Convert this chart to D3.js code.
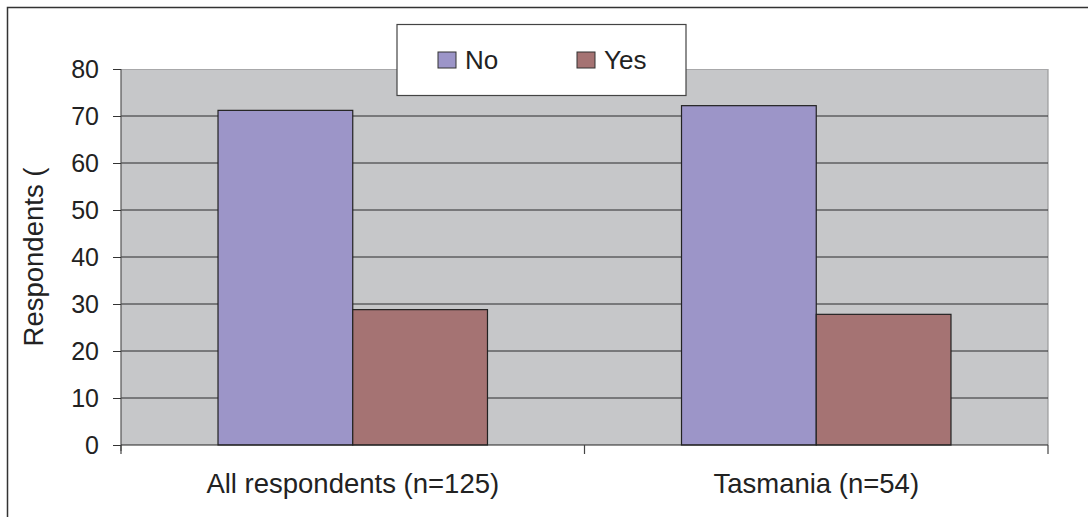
<!DOCTYPE html>
<html><head><meta charset="utf-8">
<script src="https://cdn.jsdelivr.net/npm/d3@7"></script>
<style>html,body{margin:0;padding:0;background:#fff;overflow:hidden}</style>
</head><body>
<svg id="c" width="1088" height="517"></svg>
<script>
const categories = ["All respondents (n=125)", "Tasmania (n=54)"];
const seriesNames = ["No", "Yes"];
const noValues = [71.2, 72.2];
const yesValues = [28.8, 27.8];
const yTicks = [0, 10, 20, 30, 40, 50, 60, 70, 80];
const yLabel = "Respondents (";
const colors = ["#9c95c8", "#a57373"];

const svg = d3.select("#c");
const font = "'Liberation Sans', Arial, sans-serif";
const L = 121, R = 1048, T = 69, B = 445;

// outer frame
svg.append("path").attr("d", `M7.5,517 L7.5,7.5 L1088,7.5`).attr("fill","none").attr("stroke","#333").attr("stroke-width",1.5);

const x0 = d3.scaleBand().domain(categories).range([L, R]).paddingInner(0).paddingOuter(0);
const x1 = d3.scaleBand().domain(seriesNames).range([0, x0.bandwidth()]).paddingInner(0).paddingOuter(0.72);
const y = d3.scaleLinear().domain([0, 80]).range([B, T]);

svg.append("rect").attr("x", L).attr("y", T).attr("width", R - L).attr("height", B - T).attr("fill", "#c6c7c9");
svg.append("line").attr("x1", R).attr("x2", R).attr("y1", T).attr("y2", B).attr("stroke", "#9a9a9c").attr("stroke-width", 1.2);
svg.append("line").attr("x1", L).attr("x2", R).attr("y1", T+0.5).attr("y2", T+0.5).attr("stroke", "#a8a8aa").attr("stroke-width", 1);

// gridlines
svg.append("g").selectAll("line").data(yTicks.filter(d => d > 0 && d < 80)).join("line")
  .attr("x1", L).attr("x2", R).attr("y1", d => y(d)).attr("y2", d => y(d))
  .attr("stroke", "#2a2a2c").attr("stroke-width", 1);

// bars
const data = categories.map((c, i) => ({c, vals: [noValues[i], yesValues[i]]}));
const g = svg.append("g");
data.forEach(d => {
  g.selectAll(null).data(d.vals.map((v, j) => ({v, s: seriesNames[j], j}))).join("rect")
    .attr("x", e => x0(d.c) + x1(e.s))
    .attr("y", e => y(e.v))
    .attr("width", x1.bandwidth())
    .attr("height", e => B - y(e.v))
    .attr("fill", e => colors[e.j])
    .attr("stroke", "#222").attr("stroke-width", 1.2);
});

// y axis
const ya = svg.append("g").attr("transform", `translate(${L},0)`)
  .call(d3.axisLeft(y).tickValues(yTicks).tickSize(8).tickPadding(14));
ya.select(".domain").attr("stroke", "#555").attr("stroke-width", 1.2).attr("d", `M0,${T}V${B+6}`);
ya.selectAll(".tick line").attr("stroke", "#333");
ya.selectAll("text").attr("font-family", font).attr("font-size", 25).attr("fill", "#222").attr("dy", "0.35em");

// x axis
const xa = svg.append("g").attr("transform", `translate(0,${B})`)
  .call(d3.axisBottom(x0).tickSize(0).tickPadding(28));
xa.select(".domain").attr("stroke", "#222").attr("stroke-width", 1.2).attr("d", `M${L},0H${R}`);
xa.selectAll("text").attr("font-family", font).attr("font-size", 27.5).attr("fill", "#222");
svg.append("g").selectAll("line").data([categories[0], categories[1], null]).join("line")
  .attr("x1", d => d ? x0(d) : R).attr("x2", d => d ? x0(d) : R)
  .attr("y1", B).attr("y2", B + 9).attr("stroke", "#444").attr("stroke-width", 1.2);

// y label
svg.append("text").attr("transform", `translate(43,${(T+B)/2}) rotate(-90)`)
  .attr("text-anchor", "middle").attr("font-family", font).attr("font-size", 27.5).attr("fill", "#222").text(yLabel);

// legend
const lg = svg.append("g");
lg.append("rect").attr("x", 397).attr("y", 24.5).attr("width", 289).attr("height", 71).attr("fill", "#fff").attr("stroke", "#444").attr("stroke-width", 1.2);
const legX = [438, 577];
seriesNames.forEach((s, i) => {
  lg.append("rect").attr("x", legX[i]).attr("y", 52).attr("width", 18).attr("height", 16).attr("fill", colors[i]).attr("stroke", "#333").attr("stroke-width", 1);
  lg.append("text").attr("x", legX[i] + 27).attr("y", 69).attr("font-family", font).attr("font-size", 26).attr("fill", "#222").text(s);
});
</script>
</body></html>
